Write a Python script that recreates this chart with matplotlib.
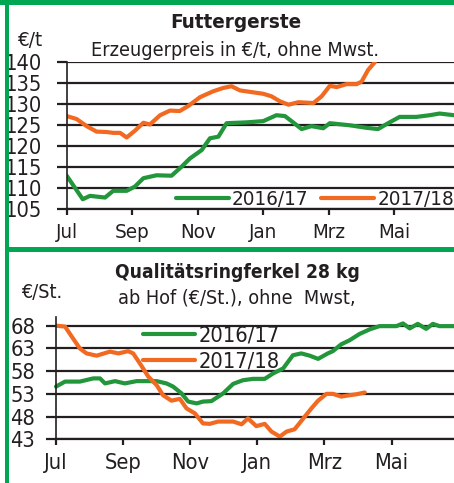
import matplotlib.pyplot as plt
import numpy as np
from matplotlib import font_manager
from matplotlib.patches import Rectangle

# pick a narrow face if one is installed, otherwise Liberation Sans (slightly smaller)
fonts = font_manager.fontManager.ttflist
names = {f.name for f in fonts}
scale = 1.0
if 'Liberation Sans Narrow' in names:
    plt.rcParams['font.family'] = ['Liberation Sans Narrow', 'DejaVu Sans']
elif any(f.name == 'DejaVu Sans' and 'condensed' in str(f.stretch) for f in fonts):
    plt.rcParams['font.family'] = ['DejaVu Sans']
    plt.rcParams['font.stretch'] = 'condensed'
    scale = 0.95
else:
    plt.rcParams['font.family'] = ['Liberation Sans', 'DejaVu Sans']
    scale = 0.88

months = ["Jul", "Sep", "Nov", "Jan", "Mrz", "Mai"]
month_pos = [0, 2, 4, 6, 8, 10]

# Futtergerste (EUR/t), x in months since 1 July
gerste_x_1617 = [0, 0.49, 0.71, 1.17, 1.42, 1.83, 2.08, 2.34, 2.74, 3.2, 3.5, 3.76, 4.12, 4.37,
                 4.63, 4.88, 5.49, 6.0, 6.4, 6.66, 6.91, 7.17, 7.47, 7.83, 8.03, 8.64, 9.15,
                 9.5, 9.81, 10.16, 10.67, 11.08, 11.38, 11.82]
gerste_y_1617 = [113, 107.4, 108.2, 107.8, 109.4, 109.4, 110.4, 112.4, 113.1, 113, 115.1, 117.1,
                 119.1, 121.9, 122.3, 125.5, 125.7, 126, 127.4, 127.2, 125.7, 124.1, 124.8,
                 124.3, 125.5, 125.0, 124.4, 124.1, 125.5, 127.0, 127, 127.4, 127.8, 127.4]
gerste_x_1718 = [0, 0.3, 0.61, 0.91, 1.22, 1.42, 1.63, 1.83, 2.08, 2.34, 2.54, 2.85, 3.15, 3.45,
                 3.71, 4.07, 4.47, 4.78, 5.03, 5.29, 6.0, 6.25, 6.51, 6.77, 7.07, 7.53, 7.78,
                 8.03, 8.24, 8.54, 8.85, 9.0, 9.2, 9.4]
gerste_y_1718 = [127.2, 126.5, 124.8, 123.5, 123.4, 123.2, 123.2, 122.1, 123.7, 125.6, 125.2,
                 127.4, 128.5, 128.4, 129.6, 131.7, 133.1, 133.9, 134.3, 133.3, 132.5, 131.9,
                 130.7, 129.9, 130.5, 130.3, 131.9, 134.4, 134.1, 134.8, 134.8, 135.4, 138.2, 140]

# Qualitaetsringferkel 28 kg (EUR/St.)
ferkel_x_1617 = [0, 0.27, 0.71, 1.11, 1.31, 1.46, 1.76, 2.05, 2.4, 3.0, 3.29, 3.49, 3.74, 3.94,
                 4.19, 4.38, 4.63, 4.98, 5.28, 5.57, 5.87, 6.22, 6.47, 6.77, 7.06, 7.31, 7.56,
                 7.81, 8.1, 8.25, 8.5, 8.75, 9.05, 9.35, 9.64, 10.14, 10.34, 10.54, 10.78,
                 11.03, 11.23, 11.43, 11.86]
ferkel_y_1617 = [54.6, 55.7, 55.7, 56.4, 56.4, 55.3, 55.8, 55.3, 55.8, 55.8, 55.3, 54.6, 53.1,
                 51.3, 50.9, 51.3, 51.4, 53.1, 55.2, 56.0, 56.3, 56.3, 57.5, 58.6, 61.5, 61.9,
                 61.4, 60.7, 61.9, 62.4, 63.9, 64.8, 66.2, 67.2, 67.9, 67.9, 68.5, 67.4, 68.4,
                 67.3, 68.4, 67.9, 67.9]
ferkel_x_1718 = [0, 0.27, 0.47, 0.71, 0.91, 1.21, 1.61, 1.86, 2.15, 2.3, 2.5, 2.75, 3.0, 3.19,
                 3.44, 3.69, 3.89, 4.14, 4.38, 4.58, 4.83, 5.28, 5.53, 5.72, 5.97, 6.22, 6.42,
                 6.67, 6.87, 7.11, 7.36, 7.61, 7.81, 8.06, 8.25, 8.5, 8.75, 8.95, 9.2]
ferkel_y_1718 = [68, 67.8, 65.6, 63.0, 61.9, 61.4, 62.3, 61.9, 62.4, 61.9, 59.7, 56.8, 54.9,
                 52.7, 51.5, 51.9, 49.8, 48.7, 46.5, 46.4, 46.9, 46.9, 46.3, 47.6, 45.9, 46.4,
                 44.7, 43.6, 44.7, 45.2, 47.5, 49.8, 51.5, 53.0, 53.0, 52.4, 52.7, 52.9, 53.3]

W, H = 454, 483
green = '#23963c'
orange = '#f26a21'
frame = '#00a651'
ink = '#231f20'

fig = plt.figure(figsize=(W / 100, H / 100), dpi=100)


def px(x0, y0, x1, y1):
    # pixel box (top-left origin) -> figure fraction rect
    return [x0 / W, 1 - y1 / H, (x1 - x0) / W, (y1 - y0) / H]


def style(ax, yticks, ylim, xmax, ylab_size, xlab_size, ypad, xpad):
    ax.set_xlim(0, xmax)
    ax.set_ylim(*ylim)
    ax.set_yticks(yticks)
    ax.set_xticks(month_pos)
    ax.set_xticklabels(months)
    ax.grid(axis='y', color=ink, linewidth=1.6)
    ax.set_axisbelow(True)
    for s in ['top', 'right']:
        ax.spines[s].set_visible(False)
    ax.spines['left'].set_color(ink)
    ax.spines['left'].set_linewidth(1.2)
    ax.spines['bottom'].set_color(ink)
    ax.spines['bottom'].set_linewidth(1.6)
    ax.tick_params(axis='y', length=7, width=1.6, color=ink, labelsize=ylab_size * scale,
                   pad=ypad, labelcolor=ink)
    ax.tick_params(axis='x', length=4, width=1.6, color=ink, labelsize=xlab_size * scale,
                   pad=xpad, labelcolor=ink)
    ax.patch.set_alpha(0)


# top chart
ax1 = fig.add_axes(px(66.7, 62.3, 454, 209.3))
ax1.plot(gerste_x_1617, gerste_y_1617, color=green, lw=3, label='2016/17',
         solid_joinstyle='round', solid_capstyle='round')
ax1.plot(gerste_x_1718, gerste_y_1718, color=orange, lw=3, label='2017/18',
         solid_joinstyle='round', solid_capstyle='round')
style(ax1, np.arange(105, 141, 5), (105, 140), 11.82, 16.5, 15.5, 11, 6)
ax1.legend(loc='lower right', bbox_to_anchor=(1.0, 0.0), ncol=2, frameon=False,
           fontsize=15.5 * scale, handlelength=2.6, handletextpad=0.15, columnspacing=0.6,
           borderpad=0, borderaxespad=0, labelcolor=ink)

# bottom chart
ax2 = fig.add_axes(px(56, 316.6, 454, 439.3))
ax2.plot(ferkel_x_1617, ferkel_y_1617, color=green, lw=3, label='2016/17',
         solid_joinstyle='round', solid_capstyle='round', clip_on=False)
ax2.plot(ferkel_x_1718, ferkel_y_1718, color=orange, lw=3, label='2017/18',
         solid_joinstyle='round', solid_capstyle='round')
style(ax2, np.arange(43, 69, 5), (43, 70), 11.86, 16.5, 16.5, 8, 6)
ax2.legend(loc='upper left', bbox_to_anchor=(87 / 398, 0.93), ncol=1, frameon=False,
           fontsize=16.5 * scale, handlelength=2.4, handletextpad=0.15, labelspacing=0.3,
           borderpad=0, borderaxespad=0, labelcolor=ink)


def ftext(x, y, s, size, **kw):
    fig.text(x / W, 1 - y / H, s, color=ink, va='center', fontsize=size * scale, **kw)


ftext(236, 23, 'Futtergerste', 15.5, ha='center', fontweight='bold')
ftext(235, 51, 'Erzeugerpreis in €/t, ohne Mwst.', 15, ha='center')
ftext(31, 41, '€/t', 15.5, ha='center')
ftext(237, 272, 'Qualitätsringferkel 28 kg', 14.5, ha='center', fontweight='bold')
ftext(237, 298, 'ab Hof (€/St.), ohne  Mwst,', 15, ha='center')
ftext(42, 293, '€/St.', 15, ha='center')

# green frame
for rect in [px(0, 0, W, 5), px(5, 0, 8.5, H), px(5, 247, W, 252)]:
    fig.add_artist(Rectangle((rect[0], rect[1]), rect[2], rect[3], transform=fig.transFigure,
                             color=frame, lw=0))

fig.savefig('out.png', dpi=100)
